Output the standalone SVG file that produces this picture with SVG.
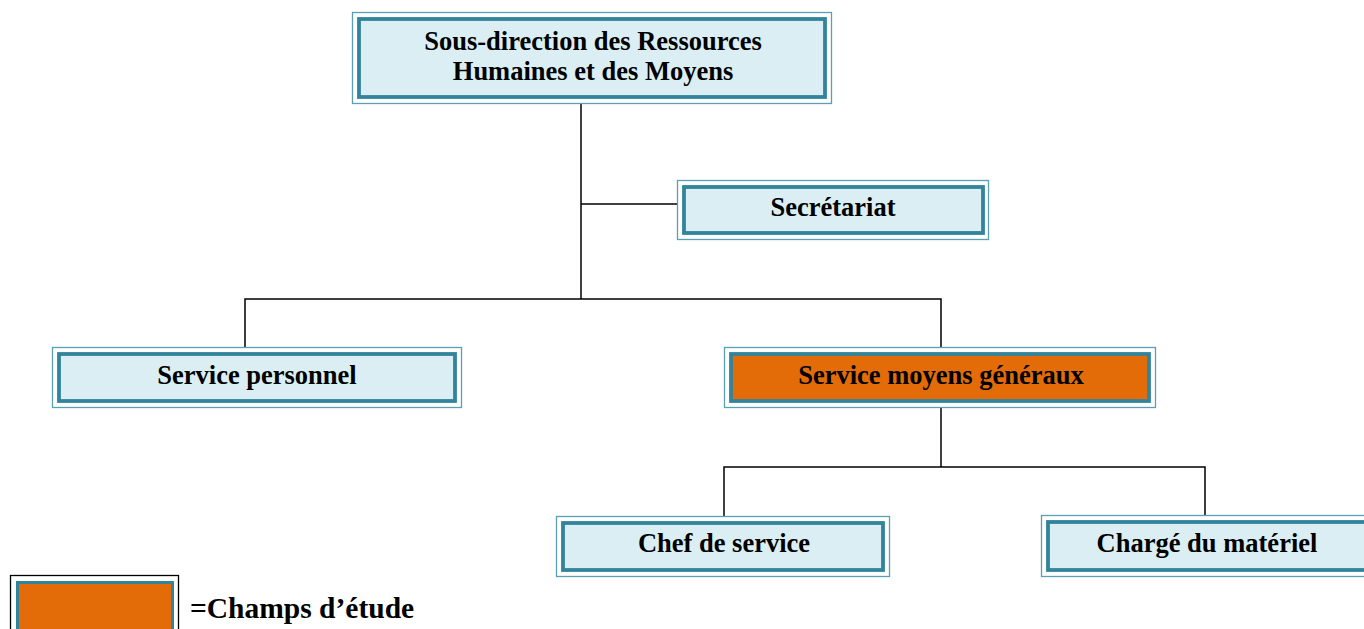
<svg xmlns="http://www.w3.org/2000/svg" width="1364" height="629" viewBox="0 0 1364 629">
  <style>
    .outer { fill: #ffffff; stroke: #5a9fb3; stroke-width: 1.3; }
    .inner { fill: #daeef3; stroke: #31849b; stroke-width: 3.8; }
    .inner.hl { fill: #e36c09; }
    .lbl { font-family: "Liberation Serif", "Times New Roman", serif; font-weight: bold; font-size: 26.5px; fill: #000; text-anchor: middle; }
    .wire { fill: none; stroke: #000; stroke-width: 1.5; }
  </style>

  <!-- connectors -->
  <g id="connectors">
    <path class="wire" d="M581 104 V299"/>
    <path class="wire" d="M581 204 H677"/>
    <path class="wire" d="M245 347 V299 H941 V347"/>
    <path class="wire" d="M941 408 V467"/>
    <path class="wire" d="M724 516 V467 H1205 V515"/>
    <path class="wire" d="M604.5 101 V104"/>
  </g>

  <g id="sous-direction">
    <rect class="outer" x="352.5" y="12.5" width="479" height="91"/>
    <rect class="inner" x="359" y="19" width="466" height="78"/>
    <text class="lbl" x="593" y="50">Sous-direction des Ressources</text>
    <text class="lbl" x="593" y="80">Humaines et des Moyens</text>
  </g>

  <g id="secretariat">
    <rect class="outer" x="677.5" y="180.5" width="311" height="59"/>
    <rect class="inner" x="684" y="187" width="299" height="46"/>
    <text class="lbl" x="833" y="216">Secrétariat</text>
  </g>

  <g id="service-personnel">
    <rect class="outer" x="52.5" y="347.5" width="409" height="60"/>
    <rect class="inner" x="59" y="354" width="396" height="47"/>
    <text class="lbl" x="257" y="384">Service personnel</text>
  </g>

  <g id="service-moyens-generaux">
    <rect class="outer" x="724.5" y="347.5" width="431" height="60"/>
    <rect class="inner hl" x="731" y="354" width="418" height="47"/>
    <text class="lbl" x="941" y="384">Service moyens généraux</text>
  </g>

  <g id="chef-de-service">
    <rect class="outer" x="556.5" y="516.5" width="333" height="60"/>
    <rect class="inner" x="563" y="523" width="320" height="47"/>
    <text class="lbl" x="724" y="552">Chef de service</text>
  </g>

  <g id="charge-du-materiel">
    <rect class="outer" x="1041.5" y="515.5" width="340" height="61"/>
    <rect class="inner" x="1048" y="522" width="327" height="48"/>
    <text class="lbl" x="1207" y="552">Chargé du matériel</text>
  </g>

  <!-- legend -->
  <g id="legend">
    <rect x="10.5" y="575.5" width="168" height="70" fill="#ffffff" stroke="#000" stroke-width="1.3"/>
    <rect x="17.5" y="582.5" width="155" height="60" fill="#e36c09" stroke="#31849b" stroke-width="3"/>
    <text class="lbl" x="190" y="618" style="text-anchor:start; font-size:29.5px">=Champs d’étude</text>
  </g>
</svg>
